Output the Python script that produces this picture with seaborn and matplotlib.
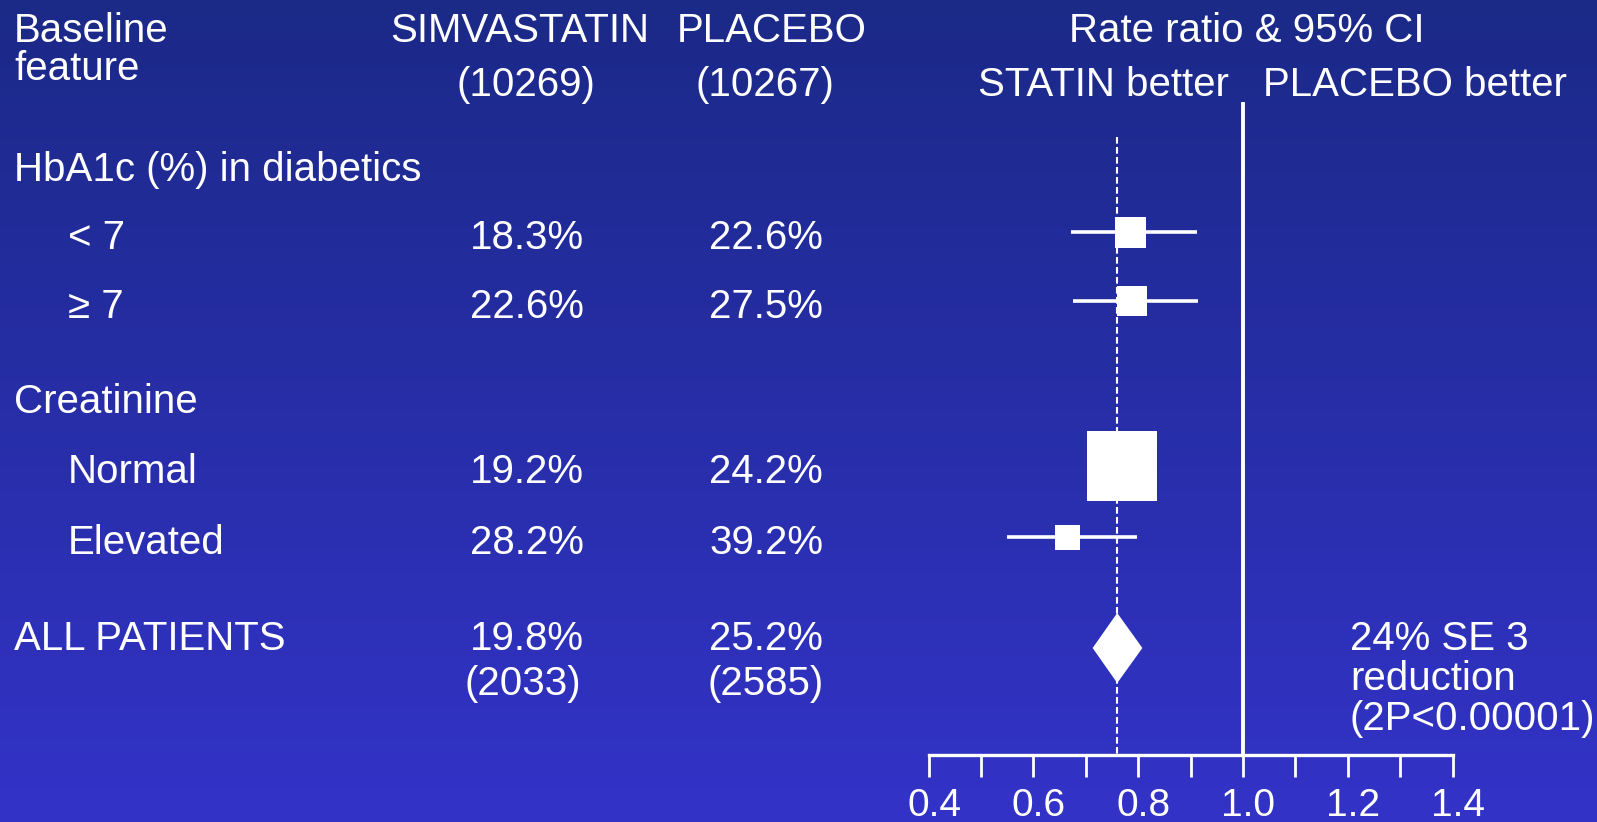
import numpy as np
import pandas as pd
import matplotlib
matplotlib.use("Agg")
import matplotlib.pyplot as plt
import matplotlib.transforms as mtransforms
from matplotlib.patches import Polygon
import seaborn as sns

# ---- data ----
groups = ["< 7", "\u2265 7", "Normal", "Elevated"]
statin_pct = ["18.3%", "22.6%", "19.2%", "28.2%"]
placebo_pct = ["22.6%", "27.5%", "24.2%", "39.2%"]
rate_ratio = [0.786, 0.789, 0.770, 0.665]
ci_low = [0.671, 0.676, 0.745, 0.549]
ci_high = [0.912, 0.915, 0.796, 0.797]

overall_rr = 0.76
overall_low = 0.713
overall_high = 0.808
overall_statin = ["19.8%", "(2033)"]
overall_placebo = ["25.2%", "(2585)"]
n_statin = "(10269)"
n_placebo = "(10267)"

tick_values = [0.4, 0.6, 0.8, 1.0, 1.2, 1.4]
minor_tick_values = [0.5, 0.7, 0.9, 1.1, 1.3]

# ---- layout (pixel rows from top) ----
W, H = 1597, 822
row_y = [232, 301, 466, 537]
overall_y = 648
box_px = [31, 30, 70, 25]

sns.set_theme(style="white")
plt.rcParams["font.family"] = ["Liberation Sans", "DejaVu Sans"]
FS = 29
WHITE = "white"

fig = plt.figure(figsize=(W / 100, H / 100), dpi=100)

# background gradient + text layer in pixel coordinates
bg = fig.add_axes([0, 0, 1, 1])
top = np.array([27, 41, 135]) / 255
bot = np.array([51, 51, 200]) / 255
t = np.linspace(0, 1, 256)[:, None, None]
grad = top[None, None, :] * (1 - t) + bot[None, None, :] * t
bg.imshow(grad, extent=[0, W, H, 0], aspect="auto", interpolation="bicubic")
bg.set_xlim(0, W)
bg.set_ylim(H, 0)
bg.axis("off")

def txt(x, y, s, ha="left"):
    bg.text(x, y, s, color=WHITE, fontsize=FS, ha=ha, va="center_baseline")

# headers
txt(14, 27, "Baseline")
txt(14, 65, "feature")
txt(520, 27, "SIMVASTATIN", ha="center")
txt(526, 81, n_statin, ha="center")
txt(772, 27, "PLACEBO", ha="center")
txt(765, 81, n_placebo, ha="center")
txt(1247, 27, "Rate ratio & 95% CI", ha="center")
txt(1229, 81, "STATIN better", ha="right")
txt(1263, 81, "PLACEBO better")

# group headings
txt(14, 166, "HbA1c (%) in diabetics")
txt(14, 398, "Creatinine")

# subgroup rows
for y, g, s, p in zip(row_y, groups, statin_pct, placebo_pct):
    txt(68, y + 2, g)
    txt(527, y + 2, s, ha="center")
    txt(766, y + 2, p, ha="center")

txt(14, 635, "ALL PATIENTS")
txt(527, 635, overall_statin[0], ha="center")
txt(766, 635, overall_placebo[0], ha="center")
txt(523, 680, overall_statin[1], ha="center")
txt(766, 680, overall_placebo[1], ha="center")

txt(1350, 635, "24% SE 3")
txt(1350, 675, "reduction")
txt(1350, 715, "(2P<0.00001)")

# ---- forest axes: x in rate-ratio units, y in pixel rows ----
x0_px, x1_px, axis_px = 928.6, 1452.6, 755
ax = fig.add_axes([x0_px / W, (H - axis_px) / H, (x1_px - x0_px) / W, axis_px / H])
ax.patch.set_alpha(0)
ax.set_xlim(0.4, 1.4)
ax.set_ylim(axis_px, 0)

# reference lines
ax.vlines(1.0, 102, axis_px, color=WHITE, lw=2.8, clip_on=False, zorder=2)
ax.vlines(overall_rr, 137, axis_px, color=WHITE, lw=1.5,
          linestyles=(0, (3.2, 1.6)), clip_on=False, zorder=2)

# confidence intervals
ax.hlines(row_y, ci_low, ci_high, color=WHITE, lw=2.6, clip_on=False, zorder=3)

# boxes
df = pd.DataFrame({"rr": rate_ratio, "y": row_y,
                   "s": [(b * 0.72) ** 2 for b in box_px]})
sns.scatterplot(data=df, x="rr", y="y", size="s", sizes=(df.s.min(), df.s.max()),
                marker="s", color=WHITE, edgecolor=WHITE, linewidth=0,
                legend=False, ax=ax, zorder=4, clip_on=False)

# overall diamond
half_h = 35
ax.add_patch(Polygon([(overall_low, overall_y), (overall_rr, overall_y - half_h),
                      (overall_high, overall_y), (overall_rr, overall_y + half_h)],
                     closed=True, facecolor=WHITE, edgecolor="none", zorder=4))

# x axis
for sp in ["left", "right", "top"]:
    ax.spines[sp].set_visible(False)
ax.spines["bottom"].set_color(WHITE)
ax.spines["bottom"].set_linewidth(2.4)
ax.set_xticks(tick_values)
ax.set_xticklabels([f"{v:.1f}" for v in tick_values])
ax.set_xticks(minor_tick_values, minor=True)
ax.tick_params(axis="x", which="both", direction="out", length=16, width=2,
               color=WHITE, bottom=True)
ax.tick_params(axis="x", which="major", labelsize=28, labelcolor=WHITE, pad=8)
shift = mtransforms.ScaledTranslation(0.055, 0, fig.dpi_scale_trans)
for lab in ax.get_xticklabels():
    lab.set_transform(lab.get_transform() + shift)
ax.set_yticks([])
ax.set_xlabel("")
ax.set_ylabel("")

fig.savefig("out.png", dpi=100)
